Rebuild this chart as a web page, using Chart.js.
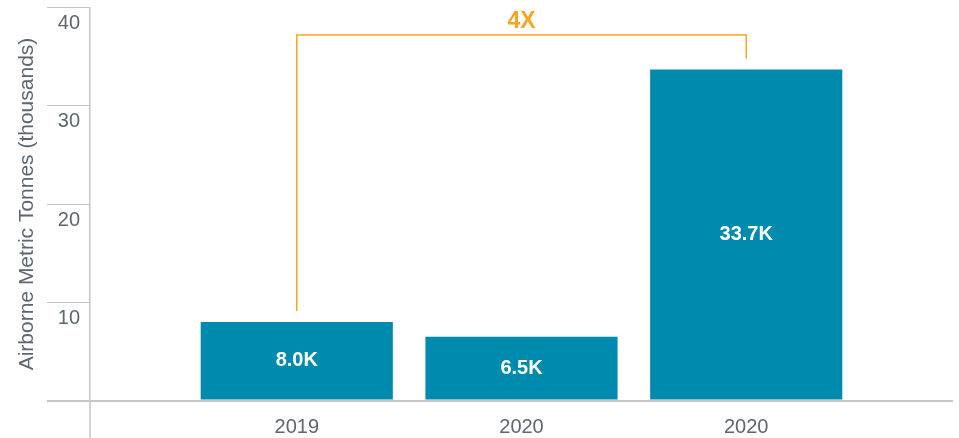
<!DOCTYPE html>
<html>
<head>
<meta charset="utf-8">
<script src="https://cdn.jsdelivr.net/npm/chart.js@4"></script>
<style>
  html, body { margin: 0; padding: 0; background: #ffffff; }
  #wrap { width: 959px; height: 438px; position: relative; }
</style>
</head>
<body>
<div id="wrap"><canvas id="c"></canvas></div>
<script>
// ---- data ----
const categories = ['2019', '2020', '2020'];
const values = [8.0, 6.5, 33.7];
const valueLabels = ['8.0K', '6.5K', '33.7K'];
const yTicks = [0, 10, 20, 30, 40];
const axisTitle = 'Airborne Metric Tonnes (thousands)';
const bracketFrom = 0;
const bracketTo = 2;
const bracketLevel = 37.2;
const bracketLabel = '4X';

const FONT = "'Liberation Sans', Arial, Helvetica, sans-serif";
const BAR = '#008aad';
const GRAY_LINE = '#c3c6ca';
const TEXT = '#5d6770';
const ORANGE = '#f6a623';

const points = values.map((v, i) => ({ x: i, y: v }));

const overlay = {
  id: 'overlay',
  afterDatasetsDraw(chart) {
    const { ctx, chartArea } = chart;
    const xs = chart.scales.x, ys = chart.scales.y;
    const meta = chart.getDatasetMeta(0);
    ctx.save();
    // y-axis extension below baseline
    ctx.strokeStyle = GRAY_LINE;
    ctx.lineWidth = 1.5;
    ctx.beginPath();
    ctx.moveTo(chartArea.left, chartArea.bottom);
    ctx.lineTo(chartArea.left, chart.height);
    ctx.stroke();
    // value labels
    ctx.fillStyle = '#ffffff';
    ctx.font = "bold 20px " + FONT;
    ctx.textAlign = 'center';
    ctx.textBaseline = 'middle';
    meta.data.forEach((bar, i) => {
      ctx.fillText(valueLabels[i], bar.x, (bar.y + bar.base) / 2);
    });
    // bracket
    const x1 = xs.getPixelForValue(bracketFrom);
    const x2 = xs.getPixelForValue(bracketTo);
    const yTop = ys.getPixelForValue(bracketLevel);
    const y1 = meta.data[bracketFrom].y - 11;
    const y2 = meta.data[bracketTo].y - 11;
    ctx.strokeStyle = ORANGE;
    ctx.lineWidth = 1.5;
    ctx.beginPath();
    ctx.moveTo(x1, y1);
    ctx.lineTo(x1, yTop);
    ctx.lineTo(x2, yTop);
    ctx.lineTo(x2, y2);
    ctx.stroke();
    ctx.fillStyle = ORANGE;
    ctx.font = "bold 23px " + FONT;
    ctx.fillText(bracketLabel, (x1 + x2) / 2, yTop - 13);
    ctx.restore();
  }
};

new Chart(document.getElementById('c'), {
  type: 'bar',
  data: {
    datasets: [{
      data: points,
      backgroundColor: BAR,
      borderWidth: 0,
      barPercentage: 0.855,
      categoryPercentage: 1.0
    }]
  },
  options: {
    responsive: true,
    maintainAspectRatio: false,
    animation: false,
    layout: { padding: { top: 7.5, right: 6, bottom: 0, left: 0 } },
    plugins: { legend: { display: false }, tooltip: { enabled: false } },
    scales: {
      x: {
        type: 'linear',
        min: -0.92,
        max: 2.92,
        offset: false,
        grid: { display: false, offset: false },
        border: { display: false },
        afterBuildTicks: (s) => { s.ticks = categories.map((c, i) => ({ value: i })); },
        afterFit: (s) => { s.height = 37.5; },
        ticks: {
          padding: 7,
          color: TEXT,
          font: { family: FONT, size: 20 },
          callback: (v) => categories[v],
          autoSkip: false,
          maxRotation: 0
        }
      },
      y: {
        min: 0,
        max: 40,
        afterBuildTicks: (s) => { s.ticks = yTicks.map(v => ({ value: v })); },
        afterFit: (s) => { s.width = 90; s.paddingTop = 0; s.paddingBottom = 0; },
        grid: {
          color: (c) => (c.tick && c.tick.value === 0) ? GRAY_LINE : 'rgba(0,0,0,0)',
          tickColor: GRAY_LINE,
          lineWidth: (c) => (c.tick && c.tick.value === 0) ? 2 : 1,
          tickWidth: (c) => (c.tick && c.tick.value === 0) ? 2 : 1.2,
          tickLength: 43,
          drawTicks: true
        },
        border: { display: true, color: GRAY_LINE, width: 1.5 },
        ticks: {
          padding: -33,
          labelOffset: 16,
          color: TEXT,
          font: { family: FONT, size: 20 },
          callback: (v) => v === 0 ? '' : String(v)
        },
        title: {
          display: true,
          text: axisTitle,
          color: TEXT,
          font: { family: FONT, size: 21 },
          padding: { top: 15, bottom: 0 }
        }
      }
    }
  },
  plugins: [overlay]
});
</script>
</body>
</html>
